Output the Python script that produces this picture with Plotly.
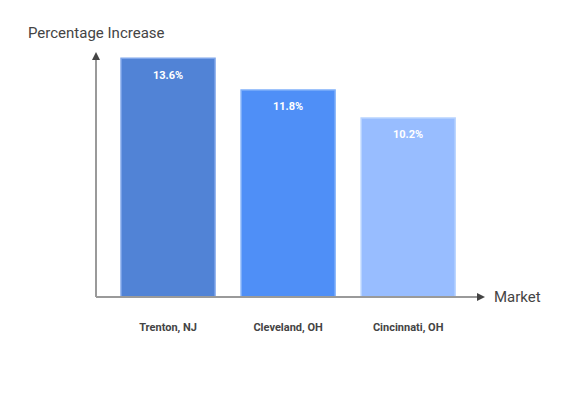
import plotly.graph_objects as go

markets = ["Trenton, NJ", "Cleveland, OH", "Cincinnati, OH"]
increase = [13.6, 11.8, 10.2]
bar_colors = ["#5183D6", "#4F8FF7", "#98BDFF"]
edge_colors = ["#7FA6EA", "#7FB0FA", "#B8D3FF"]

W, H = 576, 396
ml, mr, mt, mb = 88, 99, 44, 107
pw, ph = W - ml - mr, H - mt - mb

fig = go.Figure(go.Bar(
    x=markets, y=increase,
    marker=dict(color=bar_colors, line=dict(color=edge_colors, width=1.5)),
    width=0.783,
    hoverinfo="skip",
))

for m, v in zip(markets, increase):
    fig.add_annotation(x=m, y=v, text=f"{v}%", showarrow=False, yshift=-17,
                       yanchor="middle", font=dict(family="Roboto", size=11, color="white", weight="bold"))

axis_col = "#9A9A9A"
head_col = "#444444"
# axis lines
fig.add_shape(type="line", xref="paper", yref="paper", x0=0, y0=0, x1=1 - 4 / pw, y1=0,
              line=dict(color=axis_col, width=2))
fig.add_shape(type="line", xref="paper", yref="paper", x0=0, y0=0, x1=0, y1=1 - 4 / ph,
              line=dict(color=axis_col, width=2))
# arrowheads
ax_l, ax_w = 8, 4
fig.add_shape(type="path", xref="paper", yref="paper",
              path=f"M 1 0 L {1 - ax_l / pw} {ax_w / ph} L {1 - ax_l / pw} {-ax_w / ph} Z",
              fillcolor=head_col, line=dict(width=0))
fig.add_shape(type="path", xref="paper", yref="paper",
              path=f"M 0 1 L {ax_w / pw} {1 - ax_l / ph} L {-ax_w / pw} {1 - ax_l / ph} Z",
              fillcolor=head_col, line=dict(width=0))

fig.add_annotation(xref="paper", yref="paper", x=0, y=1, xanchor="left", yanchor="middle",
                   xshift=-70, yshift=19, showarrow=False, text="Percentage Increase",
                   font=dict(family="Roboto", size=15, color="#444444"))
fig.add_annotation(xref="paper", yref="paper", x=1, y=0, xanchor="left", yanchor="middle",
                   xshift=7, showarrow=False, text="Market",
                   font=dict(family="Roboto", size=15, color="#444444"))

fig.update_layout(
    width=W, height=H,
    margin=dict(l=ml, r=mr, t=mt, b=mb),
    plot_bgcolor="white", paper_bgcolor="white",
    showlegend=False,
    xaxis=dict(range=[-0.6, 2.64], showline=False, showgrid=False, zeroline=False,
               ticks="", ticklabelstandoff=22,
               tickfont=dict(family="Roboto", size=11, color="#444444", weight="bold")),
    yaxis=dict(range=[0, 13.96], showline=False, showgrid=False, zeroline=False,
               showticklabels=False, ticks=""),
)

fig.write_html("out.html")
